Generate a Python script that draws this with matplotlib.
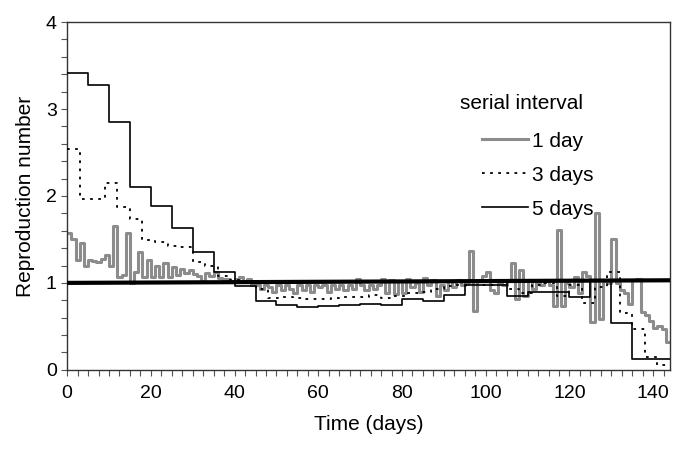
import numpy as np
import matplotlib.pyplot as plt
from matplotlib.ticker import MultipleLocator

plt.rcParams['font.family'] = ['Liberation Sans', 'DejaVu Sans']

# reproduction number estimates, one value per step
# serial interval 1 day (days 0..143)
r_1day = [1.57, 1.50, 1.26, 1.46, 1.19, 1.26, 1.25, 1.24, 1.28, 1.32,
          1.19, 1.65, 1.07, 1.09, 1.57, 1.00, 1.12, 1.35, 1.07, 1.26,
          1.07, 1.19, 1.07, 1.23, 1.07, 1.18, 1.09, 1.16, 1.11, 1.15,
          1.10, 1.08, 1.02, 1.11, 1.08, 1.12, 1.06, 1.05, 1.04, 1.02,
          1.04, 1.07, 1.02, 1.05, 0.97,
          0.98, 0.93, 0.97, 0.95, 0.90, 0.97, 0.92, 0.98, 0.93, 0.88,
          0.98, 0.92, 0.98, 0.90, 0.97, 0.95, 0.98, 0.90, 0.98, 0.93,
          0.98, 0.92, 0.97, 0.93, 1.05, 0.98, 0.92, 0.98, 0.93, 0.97,
          1.05, 0.88, 1.03, 0.87, 1.02, 0.88, 1.05, 0.95, 1.00, 0.90,
          1.06, 0.98, 1.03, 0.85, 0.98, 0.92, 1.02, 0.95, 1.03, 0.97, 1.00,
          1.37, 0.68, 1.02, 1.08, 1.12, 0.92, 0.88, 1.00, 0.97, 1.02,
          1.23, 0.81, 1.15, 0.85, 1.03, 0.93, 1.00, 0.97, 1.03, 0.98,
          0.73, 1.61, 0.73, 1.00, 0.95, 1.07, 0.88, 1.12, 1.08, 0.55,
          1.80, 0.58, 1.02, 1.00, 1.51, 1.00, 0.92, 0.88, 0.76, 1.03,
          1.04, 0.67, 0.63, 0.56, 0.48, 0.50, 0.47, 0.32]

# serial interval 3 days (3-day steps from day 0 to 144)
r_3day = [2.54, 1.97, 1.97, 2.15, 1.87, 1.74, 1.49, 1.47, 1.43, 1.41,
          1.24, 1.20, 1.08, 1.03, 1.00, 0.93, 0.83, 0.84, 0.83, 0.82,
          0.82, 0.83, 0.84, 0.84, 0.86, 0.83, 0.85, 0.88, 0.90, 0.93,
          0.96, 0.97, 1.01, 0.97, 1.03, 0.93, 0.88, 0.97, 1.00, 0.85,
          0.97, 0.77, 0.95, 1.13, 0.65, 0.47, 0.15, 0.05]

# serial interval 5 days (5-day steps, last one runs to day 144)
r_5day = [3.42, 3.28, 2.85, 2.10, 1.885, 1.63, 1.355, 1.12, 0.96, 0.79,
          0.74, 0.72, 0.73, 0.75, 0.76, 0.74, 0.82, 0.79, 0.86, 0.97,
          0.97, 0.85, 0.89, 0.89, 0.84, 1.02, 0.54, 0.12]

# threshold line R = 1
ref_x = [0, 144]
ref_y = [1.0, 1.03]

fig, ax = plt.subplots(figsize=(6.85, 4.51), dpi=100)
fig.subplots_adjust(left=0.098, right=0.978, top=0.951, bottom=0.180)

x1 = np.arange(len(r_1day) + 1)
ax.step(x1, np.append(r_1day, r_1day[-1]), where='post',
        color='#8c8c8c', lw=2.2, label='1 day', zorder=2)

x3 = np.arange(0, 3 * len(r_3day) + 1, 3)
ax.step(x3, np.append(r_3day, r_3day[-1]), where='post',
        color='black', lw=1.3, linestyle=(0, (1.5, 3)), label='3 days', zorder=3)

x5 = np.append(np.arange(0, 5 * (len(r_5day) - 1) + 1, 5), 144)
ax.step(x5, np.append(r_5day, r_5day[-1]), where='post',
        color='black', lw=1.2, label='5 days', zorder=3)

ax.plot(ref_x, ref_y, color='black', lw=3, zorder=4)

ax.set_xlim(0, 144)
ax.set_ylim(0, 4)
ax.xaxis.set_major_locator(MultipleLocator(20))
ax.xaxis.set_minor_locator(MultipleLocator(2.5))
ax.yaxis.set_major_locator(MultipleLocator(1))
ax.yaxis.set_minor_locator(MultipleLocator(0.2))
ax.tick_params(which='both', direction='out', length=4, width=0.8,
               color='#555555', labelsize=14)
ax.tick_params(axis='x', pad=7)

for s in ax.spines.values():
    s.set_linewidth(1.0)
    s.set_color('#333333')

ax.set_xlabel('Time (days)', fontsize=15, labelpad=9)
ax.set_ylabel('Reproduction number', fontsize=15, labelpad=8)

ax.text(0.652, 0.767, 'serial interval', transform=ax.transAxes,
        fontsize=15, va='center', ha='left')
ax.legend(loc='upper left', bbox_to_anchor=(0.688, 0.685), frameon=False,
          fontsize=15, handlelength=2.2, handletextpad=0.2,
          borderpad=0, borderaxespad=0, labelspacing=0.72)

plt.savefig('out.png', dpi=100)
